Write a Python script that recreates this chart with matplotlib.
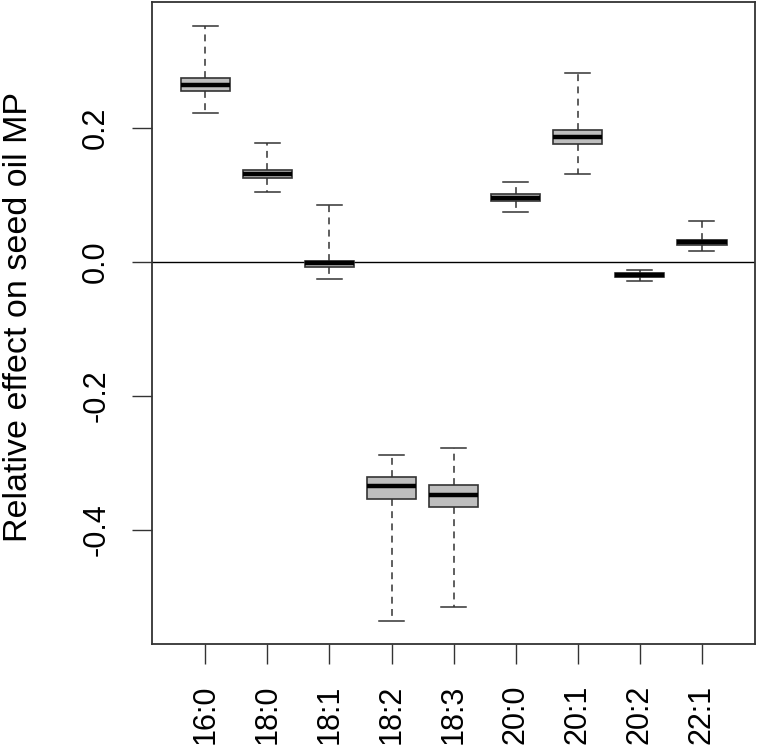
import matplotlib
matplotlib.use("Agg")
import matplotlib.pyplot as plt

plt.rcParams['font.family'] = ['Liberation Sans', 'DejaVu Sans']

# fatty acids and box statistics
labels = ['16:0', '18:0', '18:1', '18:2', '18:3', '20:0', '20:1', '20:2', '22:1']
whislo = [0.223, 0.104, -0.025, -0.537, -0.516, 0.074, 0.132, -0.029, 0.016]
q1 = [0.255, 0.125, -0.008, -0.354, -0.366, 0.091, 0.176, -0.022, 0.026]
med = [0.265, 0.132, -0.002, -0.335, -0.349, 0.096, 0.187, -0.019, 0.029]
q3 = [0.275, 0.137, 0.002, -0.322, -0.333, 0.102, 0.197, -0.016, 0.032]
whishi = [0.352, 0.177, 0.085, -0.289, -0.278, 0.119, 0.283, -0.012, 0.061]

stats = []
for i in range(len(labels)):
    stats.append(dict(label=labels[i], whislo=whislo[i], q1=q1[i], med=med[i],
                      q3=q3[i], whishi=whishi[i], fliers=[]))

fig = plt.figure(figsize=(7.59, 7.5), dpi=100)
ax = fig.add_axes([0.2003, 0.1413, 0.7945, 0.8557])

pos = list(range(1, len(labels) + 1))
ax.bxp(stats, positions=pos, widths=0.8, patch_artist=True, showfliers=False,
       boxprops=dict(facecolor='#bebebe', edgecolor='#333333', linewidth=1.2),
       medianprops=dict(color='black', linewidth=3.2, solid_capstyle='butt'),
       whiskerprops=dict(color='#333333', linewidth=1.1, linestyle=(0, (4.5, 3.5))),
       capprops=dict(color='#333333', linewidth=1.1), capwidths=0.4)

ax.axhline(0, color='black', linewidth=1.0, zorder=0)

ax.set_xlim(0.14, 9.86)
ax.set_ylim(-0.571, 0.388)
ax.set_xticks(pos)
ax.set_xticklabels(labels, rotation=90, fontsize=22)
ax.set_yticks([-0.4, -0.2, 0.0, 0.2])
ax.set_yticklabels(['-0.4', '-0.2', '0.0', '0.2'], rotation=90, va='center', fontsize=22)
ax.tick_params(length=14.4, width=1.0, color='#333333')
ax.tick_params(axis='x', pad=15)
ax.tick_params(axis='y', pad=15)
for s in ax.spines.values():
    s.set_color('#333333')
    s.set_linewidth(1.3)

fig.text(0.004, 0.5767, 'Relative effect on seed oil MP',
         rotation=90, ha='left', va='center', fontsize=24.5)

fig.savefig('out.png', dpi=100)
